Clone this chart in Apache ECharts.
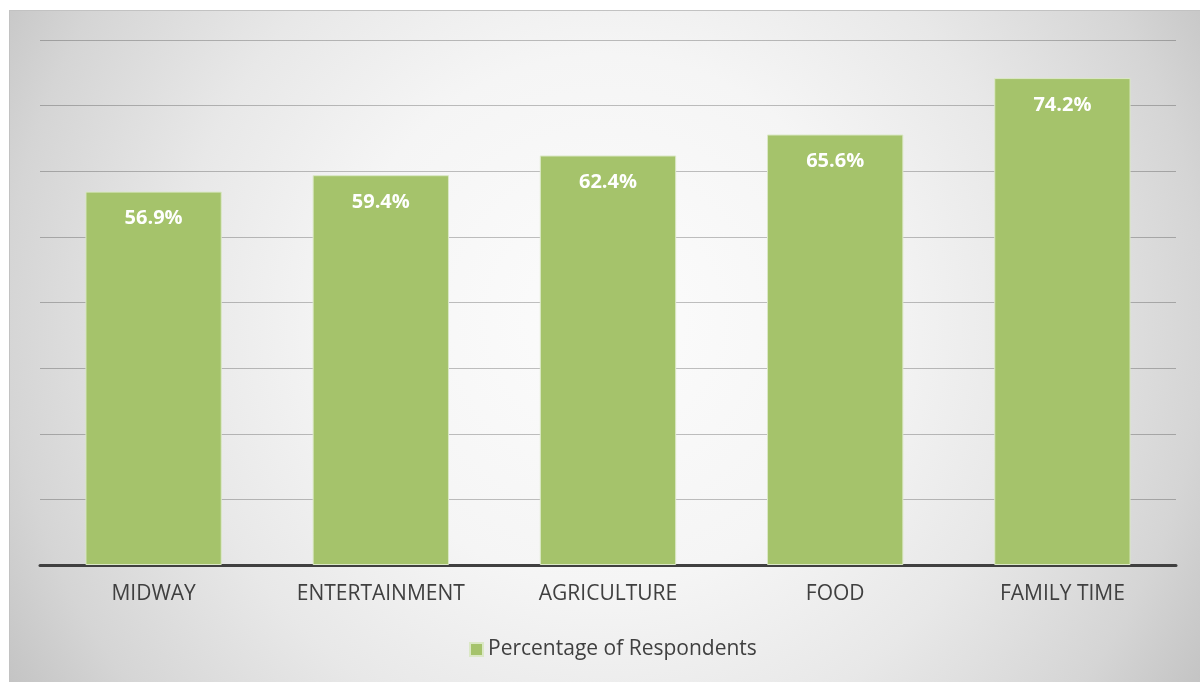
<!DOCTYPE html>
<html>
<head>
<meta charset="utf-8">
<script src="https://cdn.jsdelivr.net/npm/echarts@6/dist/echarts.min.js"></script>
<style>
  html, body { margin: 0; padding: 0; background: #ffffff; }
  #chart {
    position: absolute; left: 9px; top: 10px; width: 1191px; height: 672px;
    box-sizing: border-box;
    border-top: 1px solid #c2c2c2;
    border-left: 1px solid #c2c2c2;
    background: radial-gradient(circle farthest-corner at 50% 46%,
      #fcfcfc 0%, #f5f5f5 38%, #e8e8e8 62%, #d5d5d5 86%, #c4c4c4 100%);
  }
</style>
</head>
<body>
<div id="chart"></div>
<script>
// data
var categories = ["MIDWAY", "ENTERTAINMENT", "AGRICULTURE", "FOOD", "FAMILY TIME"];
var respondents = [56.9, 59.4, 62.4, 65.6, 74.2];
var seriesName = "Percentage of Respondents";

var myChart = echarts.init(document.getElementById("chart"));
myChart.setOption({
  backgroundColor: "transparent",
  animation: false,
  legend: {
    bottom: 17,
    left: 454,
    data: [seriesName],
    icon: "rect",
    itemWidth: 13,
    itemHeight: 13,
    itemGap: 7,
    textStyle: { fontFamily: "Open Sans", fontSize: 21, color: "#404040" }
  },
  grid: {
    left: 30,
    right: 24,
    top: 29,
    bottom: 117
  },
  xAxis: {
    type: "category",
    data: categories,
    axisTick: { show: false },
    axisLine: { lineStyle: { color: "#404040", width: 3 } },
    axisLabel: {
      margin: 19,
      fontFamily: "Open Sans",
      fontSize: 21,
      color: "#404040"
    }
  },
  yAxis: {
    type: "value",
    min: 0,
    max: 80,
    interval: 10,
    axisLabel: { show: false },
    axisLine: { show: false },
    axisTick: { show: false },
    splitLine: { lineStyle: { color: "rgba(0,0,0,0.24)", width: 1 } }
  },
  series: [
    {
      name: seriesName,
      type: "bar",
      data: respondents,
      barCategoryGap: "40%",
      itemStyle: {
        color: "#a5c36b",
        borderColor: "#dbe8c6",
        borderWidth: 1
      },
      label: {
        show: true,
        position: "insideTop",
        distance: 17,
        formatter: "{c}%",
        fontFamily: "Open Sans",
        fontWeight: "bold",
        fontSize: 20,
        color: "#ffffff"
      }
    }
  ]
});
window.addEventListener("resize", function() {
  myChart.resize();
});
</script>
</body>
</html>
